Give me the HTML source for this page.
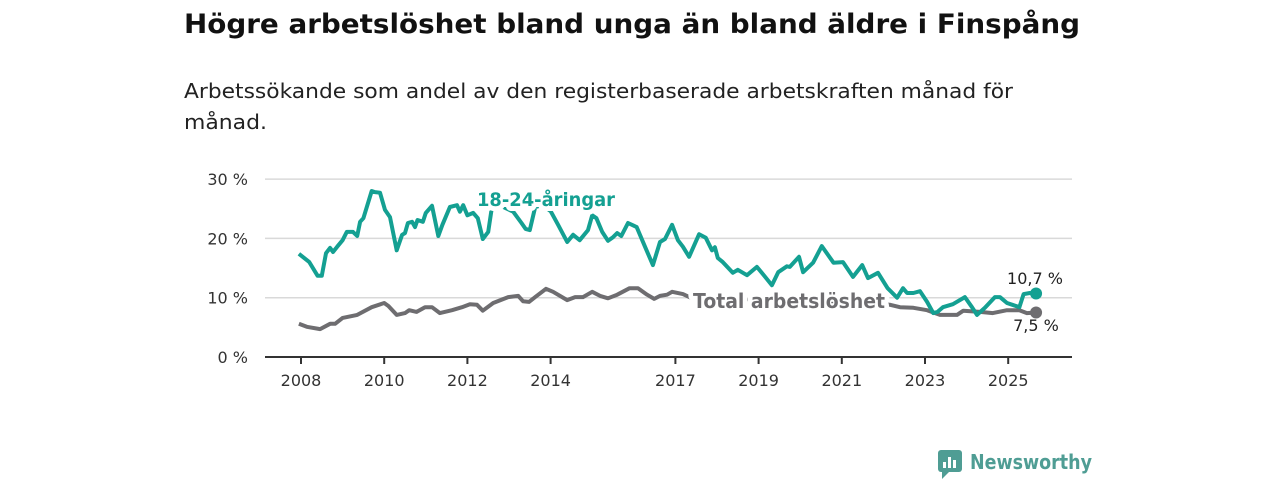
<!DOCTYPE html>
<html><head><meta charset="utf-8">
<style>
body{margin:0;background:#fff;width:1280px;height:480px;overflow:hidden;font-family:"DejaVu Sans","Liberation Sans",sans-serif;}
svg text{font-family:"DejaVu Sans","Liberation Sans",sans-serif;}
</style></head>
<body>
<svg width="1280" height="480">
<text x="184" y="33" font-size="27" font-weight="bold" fill="#111" textLength="896" lengthAdjust="spacingAndGlyphs">Högre arbetslöshet bland unga än bland äldre i Finspång</text>
<text x="184" y="98" font-size="20" fill="#222" textLength="829" lengthAdjust="spacingAndGlyphs">Arbetssökande som andel av den registerbaserade arbetskraften månad för</text>
<text x="184" y="129" font-size="20" fill="#222" textLength="83" lengthAdjust="spacingAndGlyphs">månad.</text>
<g id="grid"></g>
<g id="lines"></g>
<g id="labels"></g>
<g>
<rect x="938" y="450" width="24" height="22" rx="3" fill="#4f9d94"/>
<polygon points="942,472 942,479 949,472" fill="#4f9d94"/>
<rect x="943" y="462" width="3" height="6" fill="#fff"/><rect x="948" y="457" width="3" height="11" fill="#fff"/><rect x="953" y="460" width="3" height="8" fill="#fff"/>
<text x="970" y="469" font-size="20" font-weight="bold" fill="#4f9d94" textLength="122" lengthAdjust="spacingAndGlyphs">Newsworthy</text>
</g>
</svg>
<script>
const yTicks=[0,10,20,30];
const xTickYears=[2008,2010,2012,2014,2017,2019,2021,2023,2025];
const youthDates=[2007.95,2008.2,2008.4,2008.5,2008.6,2008.7,2008.77,2008.87,2009.0,2009.1,2009.25,2009.35,2009.42,2009.5,2009.7,2009.78,2009.9,2010.02,2010.14,2010.3,2010.43,2010.5,2010.57,2010.67,2010.74,2010.8,2010.93,2011.0,2011.15,2011.3,2011.4,2011.58,2011.75,2011.82,2011.9,2012.0,2012.14,2012.25,2012.37,2012.5,2012.58,2012.8,2013.1,2013.3,2013.4,2013.5,2013.63,2013.8,2014.0,2014.18,2014.4,2014.54,2014.7,2014.9,2015.0,2015.1,2015.24,2015.38,2015.5,2015.6,2015.7,2015.86,2016.07,2016.27,2016.46,2016.63,2016.75,2016.92,2017.06,2017.18,2017.33,2017.57,2017.73,2017.88,2017.95,2018.02,2018.14,2018.38,2018.5,2018.72,2018.96,2019.1,2019.32,2019.47,2019.68,2019.75,2019.97,2020.07,2020.31,2020.52,2020.8,2021.03,2021.27,2021.49,2021.63,2021.87,2022.1,2022.33,2022.47,2022.57,2022.72,2022.88,2023.05,2023.2,2023.3,2023.43,2023.67,2023.96,2024.13,2024.25,2024.44,2024.68,2024.8,2024.97,2025.1,2025.27,2025.37,2025.52,2025.67];
const youthValues=[17.4,16.0,13.7,13.7,17.5,18.4,17.7,18.6,19.7,21.1,21.1,20.4,22.8,23.4,28.0,27.8,27.7,24.8,23.6,18.0,20.6,20.9,22.6,22.8,21.9,23.1,22.8,24.3,25.5,20.4,22.3,25.3,25.6,24.5,25.6,23.9,24.3,23.4,19.9,21.1,24.8,25.5,24.5,22.6,21.6,21.4,25.3,25.6,24.6,22.3,19.4,20.6,19.7,21.4,23.9,23.4,21.1,19.6,20.2,20.9,20.4,22.6,21.9,18.6,15.5,19.4,19.9,22.3,19.7,18.6,16.9,20.7,20.1,18.0,18.5,16.7,16.0,14.2,14.7,13.8,15.2,14.0,12.1,14.3,15.3,15.2,16.9,14.3,15.9,18.7,15.9,16.0,13.5,15.5,13.3,14.2,11.6,10.0,11.6,10.8,10.8,11.1,9.3,7.4,7.6,8.4,8.9,10.1,8.4,7.1,8.3,10.1,10.1,9.1,8.8,8.4,10.6,10.8,10.7];
const totalDates=[2007.95,2008.14,2008.46,2008.7,2008.82,2009.0,2009.35,2009.7,2010.0,2010.1,2010.3,2010.5,2010.6,2010.78,2010.98,2011.15,2011.34,2011.63,2011.87,2012.06,2012.23,2012.37,2012.62,2012.98,2013.22,2013.34,2013.48,2013.63,2013.89,2014.06,2014.4,2014.59,2014.78,2015.0,2015.19,2015.38,2015.6,2015.9,2016.1,2016.32,2016.49,2016.63,2016.8,2016.92,2017.18,2017.4,2018.0,2019.0,2020.0,2021.0,2022.0,2022.16,2022.4,2022.72,2023.05,2023.36,2023.77,2023.92,2024.32,2024.63,2024.97,2025.27,2025.45,2025.67];
const totalValues=[5.6,5.1,4.7,5.6,5.6,6.6,7.1,8.4,9.1,8.6,7.1,7.4,7.9,7.6,8.4,8.4,7.4,7.9,8.4,8.9,8.8,7.8,9.1,10.1,10.3,9.4,9.3,10.1,11.5,11.0,9.6,10.1,10.1,11.0,10.3,9.9,10.5,11.6,11.6,10.5,9.8,10.3,10.5,11.0,10.6,9.9,9.8,9.5,9.4,9.2,8.9,8.8,8.4,8.3,7.9,7.1,7.1,7.8,7.6,7.4,7.9,7.9,7.4,7.5];
const youthLast="10,7 %", totalLast="7,5 %";

const X0=301, PXY=41.6, Y0=357, PXV=5.93;
const xs=d=>X0+(d-2008)*PXY, ys=v=>Y0-v*PXV;
const NS="http://www.w3.org/2000/svg";
function mk(tag,attrs,parent,text){const e=document.createElementNS(NS,tag);for(const k in attrs)e.setAttribute(k,attrs[k]);if(text!==undefined)e.textContent=text;parent.appendChild(e);return e;}
const grid=document.getElementById('grid'),lines=document.getElementById('lines'),labels=document.getElementById('labels');
yTicks.forEach(t=>{
  if(t>0){const g=mk('line',{x1:265,x2:1072,y1:ys(t),y2:ys(t),stroke:'#d9d9d9','stroke-width':1.5},grid);
  
  }
  const tx=mk('text',{x:248,y:ys(t)+6,'font-size':16,fill:'#333','text-anchor':'end'},grid,t+' %');
  
  
});
const ax=mk('line',{x1:265,x2:1072,y1:Y0,y2:Y0,stroke:'#333','stroke-width':2},grid);


xTickYears.forEach(y=>{
  const x=xs(y);
  mk('line',{x1:x,x2:x,y1:Y0,y2:Y0+7,stroke:'#333','stroke-width':2},grid);
  const tx=mk('text',{x:x,y:386,'font-size':16,fill:'#333','text-anchor':'middle'},grid,String(y));
  
  
});
function path(ds,vs){return ds.map((d,i)=>(i?'L':'M')+xs(d).toFixed(1)+','+ys(vs[i]).toFixed(1)).join('');}
const tl=mk('path',{d:path(totalDates,totalValues),fill:'none',stroke:'#6e6d70','stroke-width':4,'stroke-linejoin':'round'},lines);


const yl=mk('path',{d:path(youthDates,youthValues),fill:'none',stroke:'#14a092','stroke-width':4,'stroke-linejoin':'round'},lines);


const td=mk('circle',{cx:xs(totalDates[totalDates.length-1]),cy:ys(totalValues[totalValues.length-1]),r:6,fill:'#6e6d70'},lines);


const yd=mk('circle',{cx:xs(youthDates[youthDates.length-1]),cy:ys(youthValues[youthValues.length-1]),r:6,fill:'#14a092'},lines);


const l1=mk('text',{x:477,y:206,'font-size':19,'font-weight':'bold',fill:'#14a092',stroke:'#fff','stroke-width':10,'paint-order':'stroke','stroke-linejoin':'round',textLength:138,lengthAdjust:'spacingAndGlyphs'},labels,'18-24-åringar');


const l2=mk('text',{x:693,y:308,'font-size':20,'font-weight':'bold',fill:'#6e6d70',stroke:'#fff','stroke-width':10,'paint-order':'stroke','stroke-linejoin':'round',textLength:192,lengthAdjust:'spacingAndGlyphs'},labels,'Total arbetslöshet');


const v1=mk('text',{x:1035,y:284,'font-size':16,fill:'#222','text-anchor':'middle'},labels,youthLast);


const v2=mk('text',{x:1036,y:331,'font-size':16,fill:'#222','text-anchor':'middle'},labels,totalLast);


</script>
</body></html>
